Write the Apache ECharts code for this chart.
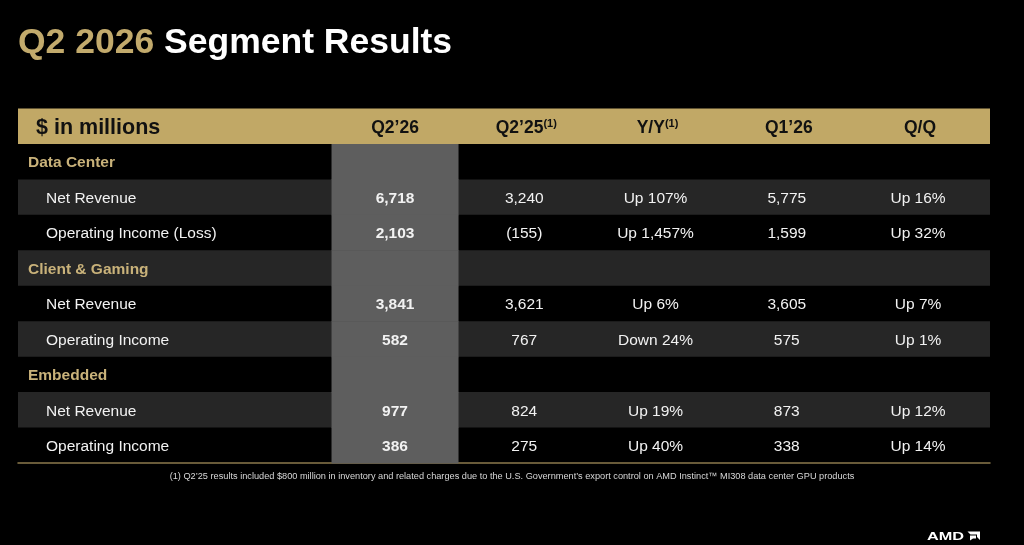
<!DOCTYPE html>
<html>
<head>
<meta charset="utf-8">
<script src="https://cdn.jsdelivr.net/npm/echarts@6/dist/echarts.min.js"></script>
<style>
html,body{margin:0;padding:0;background:#000;}
#c{width:1024px;height:545px;}
</style>
</head>
<body>
<div id="c"></div>
<script>
// ---- data ----
const columns = ['Q2\u201926', 'Q2\u201925', 'Y/Y', 'Q1\u201926', 'Q/Q'];
const columnNotes = ['', '(1)', '(1)', '', ''];
const headerLabel = '$ in millions';
const rowLabels = ['Data Center', 'Net Revenue', 'Operating Income (Loss)', 'Client & Gaming', 'Net Revenue', 'Operating Income', 'Embedded', 'Net Revenue', 'Operating Income'];
const rowIsSection = [true, false, false, true, false, false, true, false, false];
const q226 = ['', '6,718', '2,103', '', '3,841', '582', '', '977', '386'];
const q225 = ['', '3,240', '(155)', '', '3,621', '767', '', '824', '275'];
const yoy  = ['', 'Up 107%', 'Up 1,457%', '', 'Up 6%', 'Down 24%', '', 'Up 19%', 'Up 40%'];
const q126 = ['', '5,775', '1,599', '', '3,605', '575', '', '873', '338'];
const qoq  = ['', 'Up 16%', 'Up 32%', '', 'Up 7%', 'Up 1%', '', 'Up 12%', 'Up 14%'];
const footnote = '(1) Q2\u201925 results included $800 million in inventory and related charges due to the U.S. Government\u2019s export control on AMD Instinct\u2122 MI308 data center GPU products';

// ---- build ----
const colValues = [q226, q225, yoy, q126, qoq];
const rowCats = ['header'].concat(rowLabels.map((r, i) => 'r' + i));
const GOLD = '#c1a866';
const FONT = '"Liberation Sans", Arial, sans-serif';

const bgData = rowCats.map((c, i) => [0, i]);
const labelData = rowLabels.map((r, i) => [0, i + 1, r, rowIsSection[i] ? 1 : 0]);
const highlightData = rowLabels.map((r, i) => [0, i + 1]);
const cellData = [];
colValues.forEach((vals, ci) => {
  vals.forEach((v, ri) => { if (v !== '') cellData.push([ci, ri + 1, v]); });
});
const headData = columns.map((c, ci) => [ci, 0, c, columnNotes[ci]]);

const chart = echarts.init(document.getElementById('c'));
chart.setOption({
  backgroundColor: '#000',
  animation: false,
  grid: [
    { left: 18, width: 972, top: 108.5, height: 354.5 },
    { left: 329.4, width: 656.25, top: 108.5, height: 354.5 }
  ],
  xAxis: [
    { gridIndex: 0, type: 'value', min: 0, max: 1, position: 'bottom',
      axisLine: { show: true, lineStyle: { color: '#8c7a4c', width: 1.5 } },
      axisTick: { show: false }, axisLabel: { show: false }, splitLine: { show: false } },
    { gridIndex: 1, type: 'category', data: columns, show: false }
  ],
  yAxis: [
    { gridIndex: 0, type: 'category', data: rowCats, inverse: true, show: false },
    { gridIndex: 1, type: 'category', data: rowCats, inverse: true, show: false }
  ],
  graphic: [
    { type: 'text', x: 18, y: 43,
      style: { text: '{a|Q2 2026 }{b|Segment Results}', verticalAlign: 'middle', align: 'left',
        rich: {
          a: { fill: '#c2aa6c', font: 'bold 35.5px ' + FONT },
          b: { fill: '#ffffff', font: 'bold 35.5px ' + FONT }
        } } },
    { type: 'text', left: 'center', top: 471.5,
      style: { text: footnote, fill: '#d8d8d8', font: '9.2px "Liberation Sans Narrow", "Liberation Sans", sans-serif' } },
    { type: 'text', x: 927, y: 537, scaleX: 1.55, originX: 0, originY: 0,
      style: { text: 'AMD', fill: '#fff', font: 'bold 10.5px ' + FONT, verticalAlign: 'middle' } },
    { type: 'polygon', shape: { points: [[967.5, 531.5], [980, 531.5], [980, 540], [977, 537], [977, 534.5], [970.5, 534.5]] }, style: { fill: '#fff' } },
    { type: 'polygon', shape: { points: [[970, 535.5], [976, 535.5], [976, 538.5], [973, 538.5], [970, 540.5]] }, style: { fill: '#fff' } }
  ],
  series: [
    { // row backgrounds
      type: 'custom', xAxisIndex: 0, yAxisIndex: 0, data: bgData, z: 1,
      renderItem: function (params, api) {
        const row = api.value(1);
        const cs = params.coordSys;
        const p = api.coord([0, row]);
        const h = api.size([0, 1])[1];
        let fill = null;
        if (row === 0) fill = GOLD;
        else if (row % 2 === 0) fill = '#262626';
        if (!fill) return null;
        return { type: 'rect', shape: { x: cs.x, y: p[1] - h / 2, width: cs.width, height: h }, style: { fill: fill } };
      }
    },
    { // highlight column
      type: 'custom', xAxisIndex: 1, yAxisIndex: 1, data: highlightData, z: 2,
      renderItem: function (params, api) {
        const p = api.coord([api.value(0), api.value(1)]);
        const s = api.size([1, 1]);
        const w = 127;
        return { type: 'rect', shape: { x: p[0] - w / 2, y: p[1] - s[1] / 2, width: w, height: s[1] + 0.5 }, style: { fill: '#5e5e5e' } };
      }
    },
    { // header label
      type: 'custom', xAxisIndex: 0, yAxisIndex: 0, data: [[0, 0, headerLabel]], z: 5,
      renderItem: function (params, api) {
        const p = api.coord([0, 0]);
        return { type: 'text', x: params.coordSys.x + 18, y: p[1] + 1.5,
          style: { text: headerLabel, fill: '#111', font: 'bold 21.5px ' + FONT, verticalAlign: 'middle', align: 'left' } };
      }
    },
    { // row labels
      type: 'custom', xAxisIndex: 0, yAxisIndex: 0, data: labelData, z: 5,
      renderItem: function (params, api) {
        const d = labelData[params.dataIndex];
        const p = api.coord([0, d[1]]);
        const sec = d[3] === 1;
        return { type: 'text', x: params.coordSys.x + (sec ? 10 : 28), y: p[1] + 1.5,
          style: { text: d[2], fill: sec ? '#c9b27a' : '#f2f2f2', font: (sec ? 'bold ' : '') + '15.5px ' + FONT, verticalAlign: 'middle', align: 'left' } };
      }
    },
    { // column headers
      type: 'custom', xAxisIndex: 1, yAxisIndex: 1, data: headData, z: 5,
      renderItem: function (params, api) {
        const d = headData[params.dataIndex];
        const p = api.coord([d[0], 0]);
        const txt = d[3] ? '{m|' + d[2] + '}{s|' + d[3] + '}' : '{m|' + d[2] + '}';
        return { type: 'text', x: p[0], y: p[1] + 1.5,
          style: { text: txt, align: 'center', verticalAlign: 'middle',
            rich: {
              m: { fill: '#111', font: 'bold 17.5px ' + FONT },
              s: { fill: '#111', font: 'bold 11px ' + FONT, padding: [0, 0, 7, 0] }
            } } };
      }
    },
    { // cell values
      type: 'custom', xAxisIndex: 1, yAxisIndex: 1, data: cellData, z: 5,
      renderItem: function (params, api) {
        const d = cellData[params.dataIndex];
        const p = api.coord([d[0], d[1]]);
        const bold = d[0] === 0;
        return { type: 'text', x: p[0] + (bold ? 0 : -2), y: p[1] + 1.5,
          style: { text: d[2], fill: '#f2f2f2', font: (bold ? 'bold ' : '') + '15.5px ' + FONT, verticalAlign: 'middle', align: 'center' } };
      }
    }
  ]
});
</script>
</body>
</html>
